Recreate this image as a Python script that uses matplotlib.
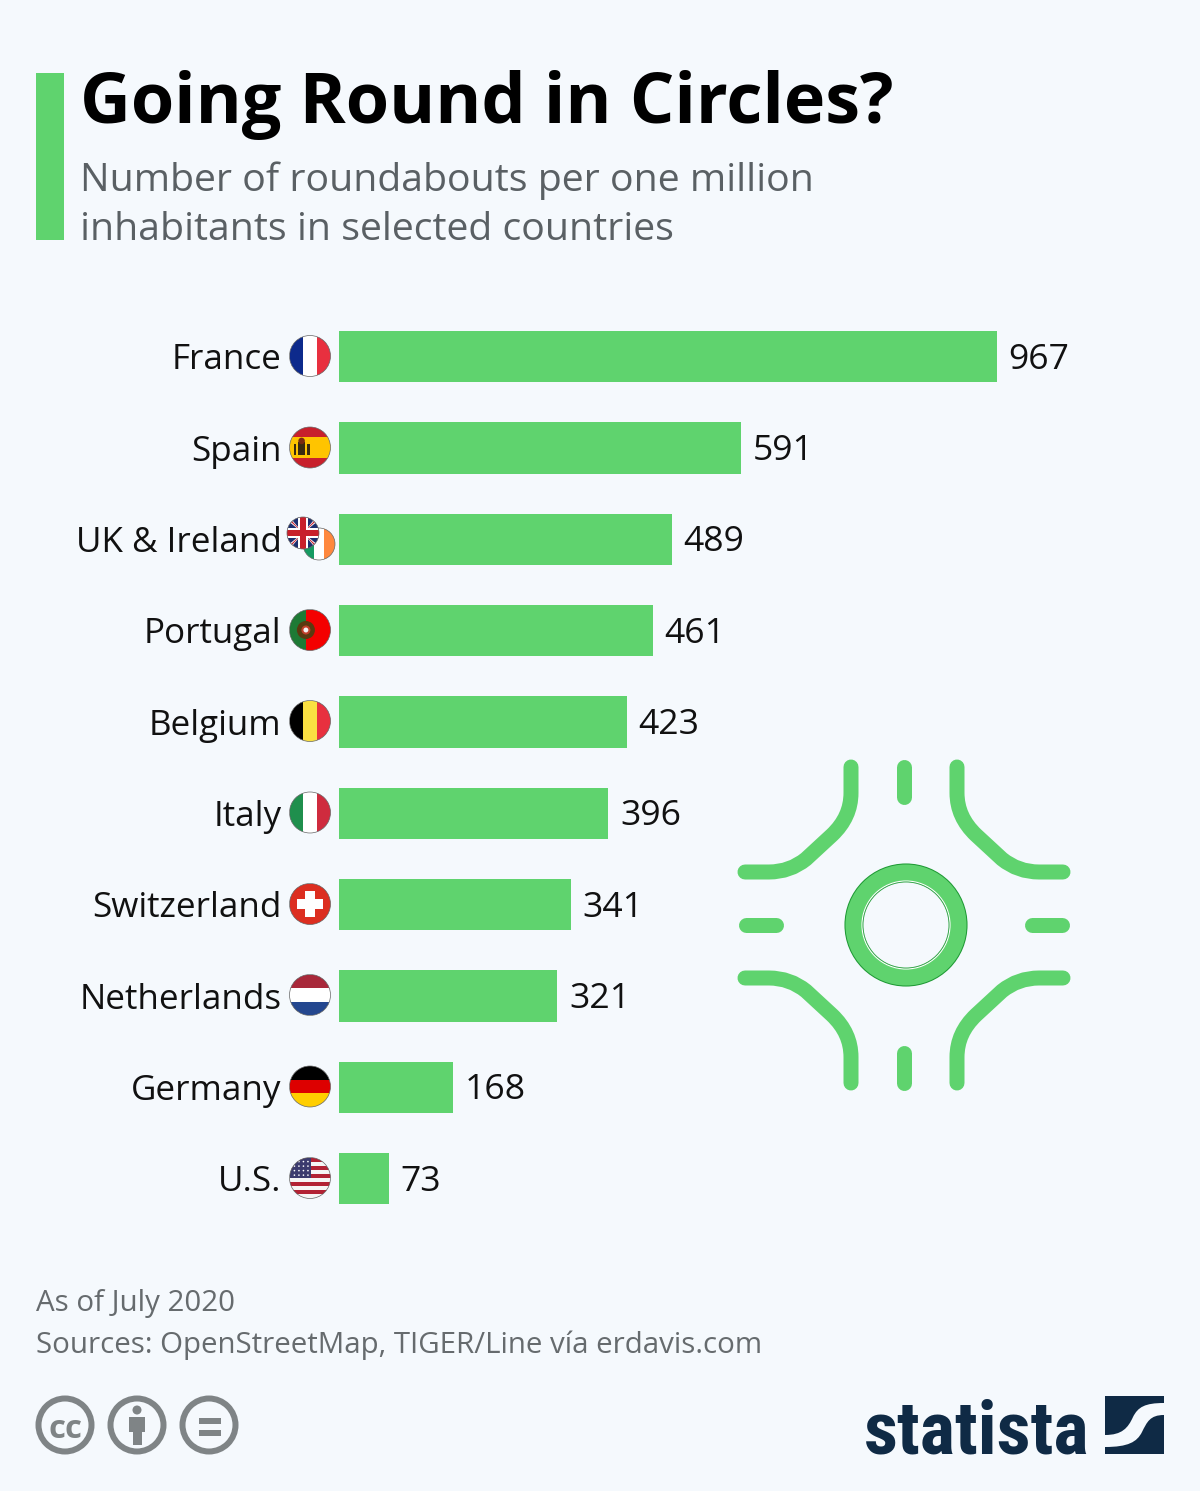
import matplotlib
matplotlib.use('Agg')
import numpy as np
from matplotlib import pyplot as plt
from matplotlib import font_manager as fm
from matplotlib.patches import Circle, Rectangle, Polygon, PathPatch
from matplotlib.path import Path

plt.rcParams['font.family'] = ['Open Sans', 'DejaVu Sans']

countries = ['France', 'Spain', 'UK & Ireland', 'Portugal', 'Belgium', 'Italy',
             'Switzerland', 'Netherlands', 'Germany', 'U.S.']
values = [967, 591, 489, 461, 423, 396, 341, 321, 168, 73]

title = 'Going Round in Circles?'
subtitle = ['Number of roundabouts per one million', 'inhabitants in selected countries']
footer = ['As of July 2020', 'Sources: OpenStreetMap, TIGER/Line vía erdavis.com']

BG = '#f5f9fd'
GREEN = '#5fd36e'
NAVY = '#0f2a45'
GREY = '#7f8486'

W, H = 1200, 1491
PX = 0.72  # points per pixel at dpi 100

fig = plt.figure(figsize=(W / 100, H / 100), dpi=100, facecolor=BG)

# overlay in pixel coordinates, used for text and decoration
bg = fig.add_axes([0, 0, 1, 1])
bg.set_xlim(0, W)
bg.set_ylim(H, 0)
bg.axis('off')

# bars get their own axes so the value scale does the work
top, bottom = 311, 1224.3
left = 339
ax = fig.add_axes([left / W, 1 - bottom / H, 800 / W, (bottom - top) / H])
ax.patch.set_alpha(0)
ax.set_xlim(0, 800 / 0.6805)
ax.set_ylim(len(values) - 0.5, -0.5)
ax.axis('off')
ax.barh(range(len(values)), values, height=0.56, color=GREEN)

row_h = (bottom - top) / len(values)
for i, (c, v) in enumerate(zip(countries, values)):
    ax.annotate(str(v), (v, i), xytext=(11.5 * PX, 1 * PX), textcoords='offset points',
                va='center_baseline', ha='left', fontsize=35.5 * PX, color='#111111')
    y = top + row_h * (i + 0.5)
    bg.text(281.5, y - 0.4, c, ha='right', va='center_baseline', fontsize=35 * PX, color='#111111')

# header
bg.add_patch(Rectangle((36, 73), 28, 167, color=GREEN, lw=0))
bg.text(80, 123.5, title, fontsize=70.1 * PX, fontweight='bold', color='black', va='baseline')
bg.text(80, 191.5, subtitle[0], fontsize=39.2 * PX, color='#5a6064', va='baseline')
bg.text(80, 239.5, subtitle[1], fontsize=39.2 * PX, color='#5a6064', va='baseline')

# footer
bg.text(36, 1311, footer[0], fontsize=29.5 * PX, color='#666b6e', va='baseline')
bg.text(36, 1353, footer[1], fontsize=29.5 * PX, color='#666b6e', va='baseline')


def flag(cx, cy, r, draw):
    clip = Circle((cx, cy), r, transform=bg.transData)
    for p in draw(cx - r, cy - r, 2 * r):
        bg.add_patch(p)
        p.set_clip_path(clip)
    bg.add_patch(Circle((cx, cy), r, fc='none', ec='#666666', lw=0.5))


def vstripes(colors, widths=None):
    def draw(x, y, s):
        out, pos = [], x
        for c, w in zip(colors, widths or [1 / len(colors)] * len(colors)):
            out.append(Rectangle((pos, y), s * w, s, fc=c, lw=0))
            pos += s * w
        return out
    return draw


def hstripes(colors, heights=None):
    def draw(x, y, s):
        out, pos = [], y
        for c, h in zip(colors, heights or [1 / len(colors)] * len(colors)):
            out.append(Rectangle((x, pos), s, s * h, fc=c, lw=0))
            pos += s * h
        return out
    return draw


def spain(x, y, s):
    out = hstripes(['#c8202c', '#ffc400', '#c8202c'], [0.25, 0.5, 0.25])(x, y, s)
    out.append(Rectangle((x + s * 0.1, y + s * 0.42), s * 0.07, s * 0.26, fc='#3a2a10', lw=0))
    out.append(Rectangle((x + s * 0.42, y + s * 0.42), s * 0.07, s * 0.26, fc='#3a2a10', lw=0))
    out.append(Rectangle((x + s * 0.2, y + s * 0.36), s * 0.19, s * 0.32, fc='#3a2a10', lw=0))
    out.append(Circle((x + s * 0.295, y + s * 0.34), s * 0.08, fc='#7a2a10', lw=0))
    return out


def portugal(x, y, s):
    out = vstripes(['#1e7a35', '#f40000'], [0.4, 0.6])(x, y, s)
    out.append(Circle((x + s * 0.4, y + s * 0.5), s * 0.22, fc='#5a3a10', lw=0))
    out.append(Circle((x + s * 0.4, y + s * 0.5), s * 0.11, fc='#c0402a', lw=0))
    out.append(Circle((x + s * 0.4, y + s * 0.5), s * 0.06, fc='#f5f5f5', lw=0))
    return out


def swiss(x, y, s):
    return [Rectangle((x, y), s, s, fc='#dc2e20', lw=0),
            Rectangle((x + s * 0.18, y + s * 0.39), s * 0.64, s * 0.22, fc='white', lw=0),
            Rectangle((x + s * 0.39, y + s * 0.18), s * 0.22, s * 0.64, fc='white', lw=0)]


def usa(x, y, s):
    out = hstripes(['#b22234', '#f5f5f5'] * 5)(x, y, s)
    out.append(Rectangle((x, y), s * 0.52, s * 0.5, fc='#3c3b6e', lw=0))
    for row in range(4):
        for col in range(4):
            out.append(Circle((x + s * (0.12 + col * 0.11), y + s * (0.1 + row * 0.11)),
                              s * 0.02, fc='white', lw=0))
    return out


def uk(x, y, s):
    cx, cy = x + s / 2, y + s / 2
    out = [Rectangle((x, y), s, s, fc='#1d2f6f', lw=0)]
    w = s * 0.1
    for sign in (1, -1):
        pts = [(x, cy - sign * (s / 2 + w)), (x, cy - sign * (s / 2 - w)),
               (x + s, cy + sign * (s / 2 + w)), (x + s, cy + sign * (s / 2 - w))]
        out.append(Polygon([pts[0], pts[1], pts[3], pts[2]], fc='white', lw=0))
        w2 = s * 0.04
        pts = [(x, cy - sign * (s / 2 + w2)), (x, cy - sign * (s / 2 - w2)),
               (x + s, cy + sign * (s / 2 - w2)), (x + s, cy + sign * (s / 2 + w2))]
        out.append(Polygon(pts, fc='#c8202c', lw=0))
    out.append(Rectangle((x, cy - s * 0.17), s, s * 0.34, fc='white', lw=0))
    out.append(Rectangle((cx - s * 0.17, y), s * 0.34, s, fc='white', lw=0))
    out.append(Rectangle((x, cy - s * 0.1), s, s * 0.2, fc='#c8202c', lw=0))
    out.append(Rectangle((cx - s * 0.1, y), s * 0.2, s, fc='#c8202c', lw=0))
    return out


FX, FR = 310, 20.5
flag(FX, 356, FR, vstripes(['#0d2a8c', '#ffffff', '#e8303f']))
flag(FX, 447.5, FR, spain)
flag(319, 544, 16, vstripes(['#169b62', '#ffffff', '#ff883e']))
flag(303, 533, 16, uk)
flag(FX, 630, FR, portugal)
flag(FX, 721, FR, vstripes(['#000000', '#fae042', '#e8303f']))
flag(FX, 812.5, FR, vstripes(['#1f8f4d', '#ffffff', '#cf2b3e']))
flag(FX, 904, FR, swiss)
flag(FX, 995, FR, hstripes(['#a8283a', '#ffffff', '#24478f']))
flag(FX, 1086.5, FR, hstripes(['#000000', '#dd0000', '#ffce00']))
flag(FX, 1178, FR, usa)

# roundabout icon
RX, RY = 904, 925
road = dict(fc='none', ec=GREEN, lw=15 * PX, capstyle='round', joinstyle='round')
for sx in (-1, 1):
    for sy in (-1, 1):
        verts = [(53, 158), (53, 132), (53, 108), (72, 90), (98, 66), (114, 53), (135, 53), (159, 53)]
        codes = [Path.MOVETO, Path.LINETO, Path.CURVE3, Path.CURVE3, Path.LINETO,
                 Path.CURVE3, Path.CURVE3, Path.LINETO]
        verts = [(RX + sx * a, RY + sy * b) for a, b in verts]
        bg.add_patch(PathPatch(Path(verts, codes), **road))
for dx, dy in [(0, -1), (0, 1), (-1, 0), (1, 0)]:
    bg.plot([RX + dx * 158, RX + dx * 128], [RY + dy * 158, RY + dy * 128], color=GREEN,
            lw=15 * PX, solid_capstyle='round')
bg.add_patch(Circle((906, 925), 60.5, fc='none', ec='#1f9a35', lw=1.5))
bg.add_patch(Circle((906, 925), 52, fc='none', ec=GREEN, lw=17 * PX))
bg.add_patch(Circle((906, 925), 44, fc='none', ec='white', lw=0.8))
bg.add_patch(Circle((906, 925), 43, fc='none', ec='#1f9a35', lw=0.6))

# licence icons
for cx in (65, 137, 209):
    bg.add_patch(Circle((cx, 1425), 26.5, fc='none', ec=GREY, lw=6 * PX))
bg.text(65, 1425, 'cc', ha='center', va='center_baseline', fontsize=33 * PX, fontweight='bold', color=GREY)
bg.add_patch(Circle((137, 1410), 4.5, fc=GREY, lw=0))
bg.add_patch(Rectangle((129, 1417), 16, 15, fc=GREY, lw=0))
bg.add_patch(Rectangle((132.5, 1430), 9, 15, fc=GREY, lw=0))
bg.add_patch(Rectangle((199, 1418), 22, 6, fc=GREY, lw=0))
bg.add_patch(Rectangle((199, 1430), 22, 6, fc=GREY, lw=0))

# statista logo, narrow face if there is one, sized to the wordmark width
installed = set(f.name for f in fm.fontManager.ttflist)
logo_font = next((n for n in ['Liberation Sans Narrow', 'Roboto Condensed', 'Roboto'] if n in installed), 'DejaVu Sans')
logo = bg.text(864, 1454, 'statista', fontsize=60, fontweight='bold', color=NAVY, va='baseline', family=logo_font)
box = logo.get_window_extent(fig.canvas.get_renderer())
logo.set_fontsize(60 * 226 / box.width)

bg.add_patch(Rectangle((1105, 1396), 59, 58, fc=NAVY, lw=0))
swoosh = Path([(1105, 1435), (1122, 1435), (1128, 1428), (1133, 1417), (1138, 1407), (1145, 1403), (1164, 1403),
               (1164, 1415), (1150, 1415), (1147, 1422), (1142, 1432), (1137, 1442), (1128, 1447), (1105, 1447),
               (1105, 1435)],
              [Path.MOVETO, Path.CURVE4, Path.CURVE4, Path.CURVE4, Path.CURVE4, Path.CURVE4, Path.CURVE4,
               Path.LINETO, Path.CURVE4, Path.CURVE4, Path.CURVE4, Path.CURVE4, Path.CURVE4, Path.CURVE4,
               Path.CLOSEPOLY])
bg.add_patch(PathPatch(swoosh, fc=BG, lw=0))

fig.savefig('out.png', dpi=100, facecolor=BG)
